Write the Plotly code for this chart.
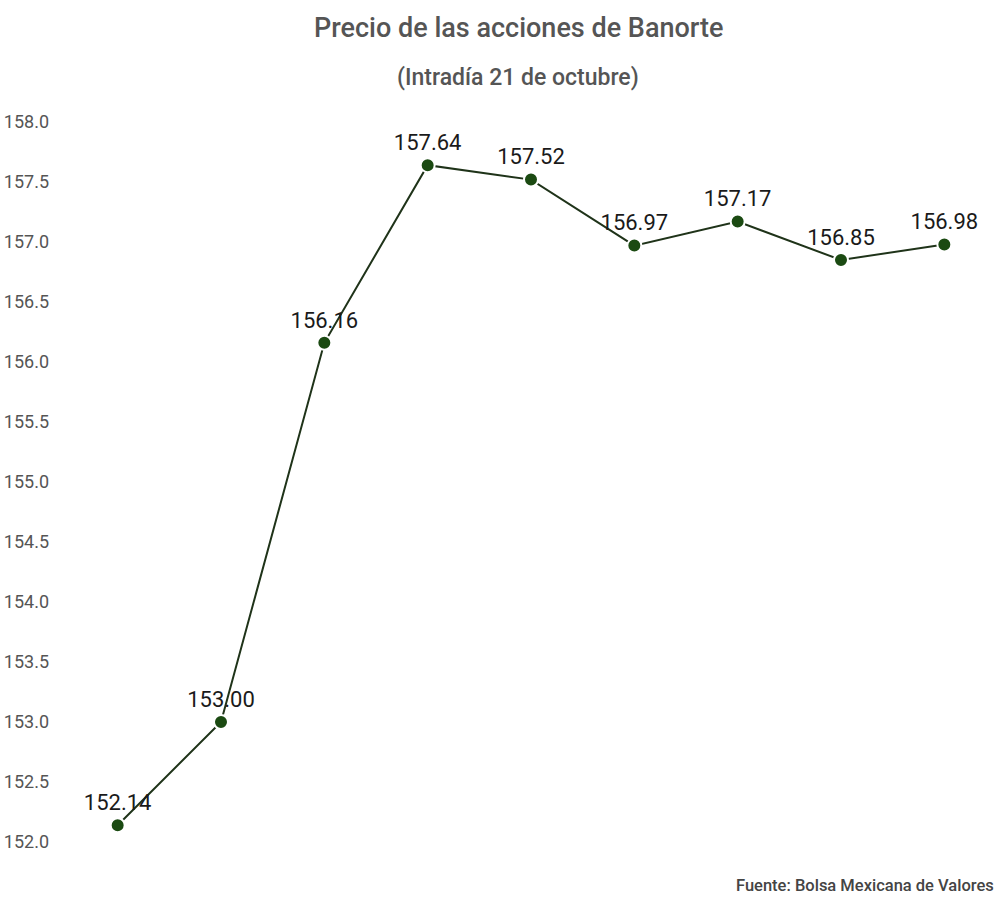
import plotly.graph_objects as go

# Intradía 21 de octubre, precio por acción (MXN)
etiquetas = ["t1", "t2", "t3", "t4", "t5", "t6", "t7", "t8", "t9"]
precios = [152.14, 153.00, 156.16, 157.64, 157.52, 156.97, 157.17, 156.85, 156.98]
ticks_y = [152.0, 152.5, 153.0, 153.5, 154.0, 154.5, 155.0, 155.5, 156.0, 156.5, 157.0, 157.5, 158.0]

W, H = 1000, 903
L, R, T, B = 66, 4, 122, 61
plot_w, plot_h = W - L - R, H - T - B

fig = go.Figure()

fig.add_trace(go.Scatter(
    x=list(range(len(precios))), y=precios,
    mode="lines+markers+text",
    line=dict(color="#1f3319", width=2),
    marker=dict(size=14, color="#1b4a12", line=dict(width=2, color="white")),
    text=[f"{p:.2f}" for p in precios],
    textposition="top center",
    textfont=dict(family="Roboto", size=22, color="#1a1a1a"),
    cliponaxis=False,
    hoverinfo="text",
))

fig.update_xaxes(
    range=[-0.5, len(precios) - 0.5],
    showticklabels=False, showgrid=False, zeroline=False, showline=False,
)
fig.update_yaxes(
    range=[152.0, 158.0],
    tickvals=ticks_y,
    ticktext=[f"{v:.1f}" for v in ticks_y],
    tickfont=dict(family="Roboto", size=18, color="#555555"),
    showgrid=False, zeroline=False, showline=False,
    ticklabelstandoff=16, automargin=False,
)


def px_x(px):
    return (px - L) / plot_w


def px_y(py):
    return (H - B - py) / plot_h


fig.update_layout(
    width=W, height=H,
    margin=dict(l=L, r=R, t=T, b=B),
    paper_bgcolor="white", plot_bgcolor="white",
    showlegend=False,
    annotations=[
        dict(text="Precio de las acciones de Banorte", x=px_x(518), y=px_y(28),
             xref="paper", yref="paper", yanchor="middle", showarrow=False,
             font=dict(family="Roboto", size=27, color="#555555", weight=500)),
        dict(text="(Intradía 21 de octubre)", x=px_x(518), y=px_y(77),
             xref="paper", yref="paper", yanchor="middle", showarrow=False,
             font=dict(family="Roboto", size=23, color="#555555", weight=500)),
        dict(text="Fuente: Bolsa Mexicana de Valores", x=px_x(996), y=px_y(885),
             xref="paper", yref="paper", xanchor="right", yanchor="middle", showarrow=False,
             font=dict(family="Roboto", size=16.5, color="#444444", weight=500)),
    ],
)

# drop the page's default body margin so the figure sits at the window's corner
fig.write_html("out.html", config={"displayModeBar": False},
               post_script="document.body.style.margin='0';")
